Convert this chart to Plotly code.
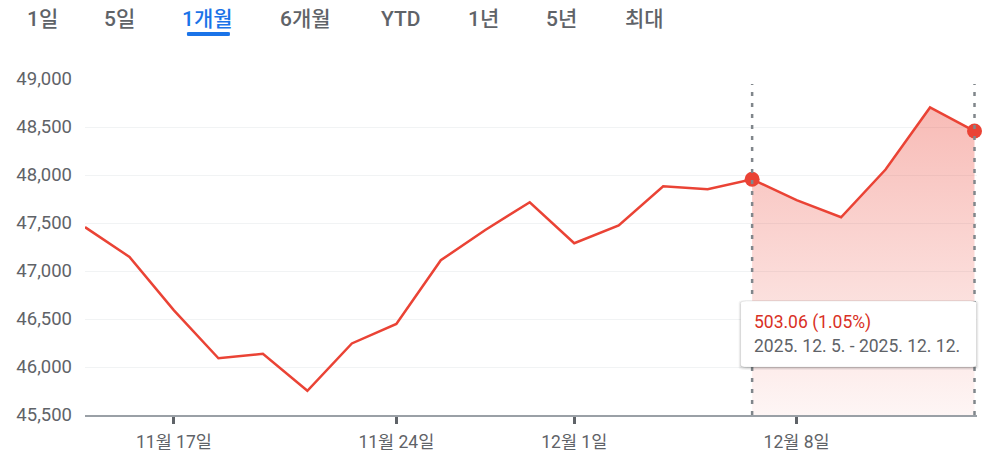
import plotly.graph_objects as go

dates = ["11/13", "11/14", "11/17", "11/18", "11/19", "11/20", "11/21",
         "11/24", "11/25", "11/26", "11/28",
         "12/1", "12/2", "12/3", "12/4", "12/5",
         "12/8", "12/9", "12/10", "12/11", "12/12"]
values = [47457, 47147, 46590, 46091, 46138, 45752, 46245,
          46448, 47112, 47427, 47716,
          47289, 47474, 47883, 47851, 47955,
          47739, 47560, 48057, 48704, 48458]
tick_idx = [2, 7, 11, 16]
tick_labels = ["11월 17일", "11월 24일", "12월 1일", "12월 8일"]
y_ticks = [45500, 46000, 46500, 47000, 47500, 48000, 48500, 49000]
tabs = ["1일", "5일", "1개월", "6개월", "YTD", "1년", "5년", "최대"]
tab_px = [42, 120, 208, 306, 401, 484, 562, 645]
sel_start, sel_end = 15, 20
change_text = "503.06 (1.05%)"
range_text = "2025. 12. 5. - 2025. 12. 12."

RED = "#ea4335"
GRAY = "#5f6368"
FONT = "Roboto, 'Noto Sans CJK KR', sans-serif"

# page has an 8px body margin; work in page pixels and convert
OFF = 8
PW, PH = 992, 459
W, H = PW - OFF, PH - OFF
EXT = 2.5                                            # small extra room so the last dotted line isn't clipped
plot_l, plot_r, plot_t, plot_b = 85, 975 + EXT, 79, 415   # page pixels
L, R, T, B = plot_l - OFF, PW - plot_r, plot_t - OFF, PH - plot_b
pw, ph = W - L - R, H - T - B
step = (975 - 85) / (len(values) - 1)


def px_x(p):
    return (p - plot_l) / pw


def px_y(p):
    return (plot_b - p) / ph


x = list(range(len(values)))
fig = go.Figure()

fig.add_trace(go.Scatter(
    x=x[sel_start:sel_end + 1], y=values[sel_start:sel_end + 1],
    mode="lines", line=dict(width=0, color=RED),
    fill="tozeroy",
    fillgradient=dict(type="vertical", start=45500, stop=48710,
                      colorscale=[[0, "rgba(234,67,53,0.05)"], [1, "rgba(234,67,53,0.36)"]]),
    showlegend=False, hoverinfo="skip"))

fig.add_trace(go.Scatter(x=x, y=values, mode="lines",
                         line=dict(color=RED, width=2.5), showlegend=False))

fig.add_trace(go.Scatter(x=[x[sel_start], x[sel_end]],
                         y=[values[sel_start], values[sel_end]],
                         mode="markers", marker=dict(color=RED, size=15),
                         showlegend=False, cliponaxis=False))

shapes = []
for xi in (sel_start, sel_end):
    shapes.append(dict(type="line", xref="x", yref="paper", x0=xi, x1=xi,
                       y0=0, y1=px_y(84), line=dict(color="#80868b", width=2.5, dash="4px,7px"),
                       layer="above"))


def rrect(x0, y0, x1, y1, r):
    return (f"M{x0+r},{y0} L{x1-r},{y0} Q{x1},{y0} {x1},{y0+r} L{x1},{y1-r} "
            f"Q{x1},{y1} {x1-r},{y1} L{x0+r},{y1} Q{x0},{y1} {x0},{y1-r} "
            f"L{x0},{y0+r} Q{x0},{y0} {x0+r},{y0} Z")


for off, a in ((3, 0.05), (2, 0.07), (1, 0.10)):
    shapes.append(dict(type="path", xref="paper", yref="paper",
                       path=rrect(px_x(741 - off + 1), px_y(367 + off), px_x(977 + off - 1), px_y(301 - off + 2), 0.008),
                       fillcolor=f"rgba(0,0,0,{a})", line=dict(width=0), layer="above"))
shapes.append(dict(type="path", xref="paper", yref="paper",
                   path=rrect(px_x(741), px_y(367), px_x(977), px_y(301), 0.007),
                   fillcolor="white", line=dict(width=0.5, color="rgba(0,0,0,0.12)"), layer="above"))

shapes.append(dict(type="path", xref="paper", yref="paper",
                   path=rrect(px_x(187), px_y(36), px_x(230), px_y(32), 0.002),
                   fillcolor="#1a73e8", line=dict(width=0), layer="above"))

annotations = []
for t, p in zip(tabs, tab_px):
    annotations.append(dict(text=t, xref="paper", yref="paper", x=px_x(p), y=px_y(19),
                            showarrow=False, xanchor="center", yanchor="middle",
                            font=dict(size=21, weight=500,
                                      color="#1a73e8" if t == "1개월" else GRAY, family=FONT)))
annotations.append(dict(text=change_text, xref="paper", yref="paper", x=px_x(752), y=px_y(322),
                        showarrow=False, xanchor="left", yanchor="middle",
                        font=dict(size=17.5, color="#d93025", family=FONT)))
annotations.append(dict(text=range_text, xref="paper", yref="paper", x=px_x(752), y=px_y(346),
                        showarrow=False, xanchor="left", yanchor="middle",
                        font=dict(size=17.5, color=GRAY, family=FONT)))

fig.update_layout(
    width=W, height=H,
    margin=dict(l=L, r=R, t=T, b=B, autoexpand=False),
    paper_bgcolor="white", plot_bgcolor="white",
    hovermode=False,
    shapes=shapes, annotations=annotations,
    font=dict(family=FONT, color=GRAY),
    xaxis=dict(range=[0, len(values) - 1 + EXT / step], tickvals=tick_idx, ticktext=tick_labels,
               automargin=False,
               showgrid=False, zeroline=False, showline=True, linecolor="#9aa0a6", linewidth=1.5,
               ticks="outside", ticklen=7, tickwidth=2.5, tickcolor="#5f6368",
               ticklabelstandoff=3,
               tickfont=dict(size=17.5, color=GRAY), fixedrange=True),
    yaxis=dict(range=[45500, 49000], tickvals=y_ticks, tickformat=",",
               automargin=False,
               showgrid=True, gridcolor="#f1f3f4", gridwidth=1, zeroline=False,
               showline=False, ticks="", ticklabelstandoff=12,
               tickfont=dict(size=18.5, color=GRAY), fixedrange=True),
)

fig.write_html("out.html", config={"displayModeBar": False})
